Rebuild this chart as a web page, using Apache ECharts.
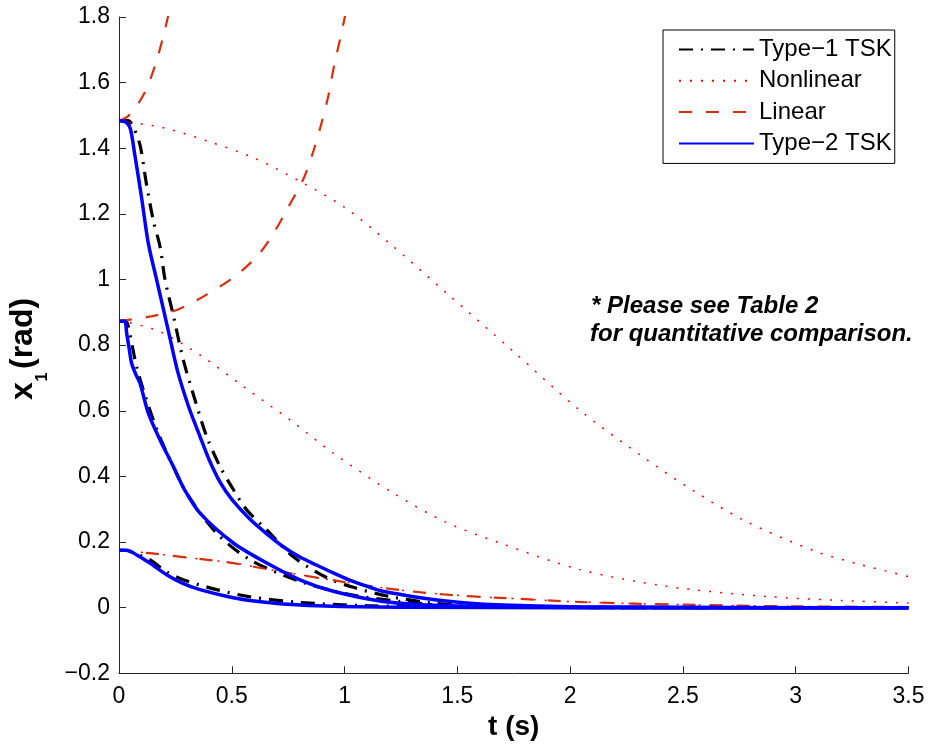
<!DOCTYPE html>
<html>
<head>
<meta charset="utf-8">
<script src="https://cdn.jsdelivr.net/npm/echarts@6/dist/echarts.min.js"></script>
<style>
html,body{margin:0;padding:0;background:#fff;}
#chart{width:929px;height:748px;}
</style>
</head>
<body>
<div id="chart"></div>
<script>
// ---- Data (t in s, x1 in rad) ----
// Type-1 TSK (three initial conditions)
const t1HiT = [0, 0.04, 0.06, 0.093, 0.122, 0.152, 0.182, 0.204, 0.241, 0.285, 0.337, 0.389, 0.448, 0.507, 0.566, 0.655, 0.773, 0.92, 1.039, 1.2, 1.39, 1.6, 2.0, 2.5, 3.0, 3.5];
const t1HiX = [1.484, 1.484, 1.47, 1.41, 1.29, 1.18, 1.10, 1.00, 0.89, 0.755, 0.633, 0.521, 0.430, 0.36, 0.298, 0.237, 0.155, 0.092, 0.062, 0.034, 0.014, 0.006, 0.002, 0.0005, 0, 0];
const t1MidT = [0, 0.03, 0.041, 0.078, 0.122, 0.174, 0.233, 0.300, 0.433, 0.581, 0.802, 1.024, 1.246, 1.467, 1.8, 2.5, 3.5];
const t1MidX = [0.873, 0.873, 0.857, 0.735, 0.633, 0.532, 0.441, 0.349, 0.227, 0.146, 0.080, 0.040, 0.019, 0.006, 0.002, 0, 0];
const t1LoT = [0, 0.03, 0.06, 0.137, 0.21, 0.285, 0.433, 0.581, 0.802, 1.098, 1.5, 2.5, 3.5];
const t1LoX = [0.175, 0.175, 0.168, 0.146, 0.11, 0.085, 0.055, 0.033, 0.016, 0.006, 0.002, 0, 0];

// Nonlinear model
const nlHiT = [0, 0.2, 0.4, 0.6, 0.8, 1.0, 1.2, 1.45, 1.75, 2.04, 2.34, 2.55, 2.78, 3.09, 3.29, 3.5];
const nlHiX = [1.484, 1.462, 1.42, 1.37, 1.30, 1.22, 1.11, 0.96, 0.78, 0.603, 0.451, 0.355, 0.263, 0.171, 0.131, 0.095];
const nlMidT = [0, 0.05, 0.182, 0.359, 0.551, 0.758, 0.950, 1.216, 1.45, 1.689, 2.043, 2.428, 2.871, 3.2, 3.5];
const nlMidX = [0.873, 0.868, 0.841, 0.770, 0.674, 0.572, 0.471, 0.349, 0.26, 0.197, 0.116, 0.065, 0.034, 0.022, 0.014];
const nlLoT = [0, 0.137, 0.3, 0.507, 0.65, 0.802, 1.0, 1.171, 1.35, 1.541, 1.689, 2.058, 2.502, 3.0, 3.5];
const nlLoX = [0.175, 0.166, 0.153, 0.136, 0.118, 0.100, 0.078, 0.060, 0.046, 0.036, 0.030, 0.017, 0.009, 0.004, 0.002];

// Linear model
const linHiT = [0, 0.041, 0.108, 0.158, 0.196, 0.22, 0.24];
const linHiX = [1.484, 1.498, 1.562, 1.648, 1.74, 1.81, 1.88];
const linMidT = [0, 0.137, 0.256, 0.373, 0.505, 0.61, 0.68, 0.75, 0.82, 0.863, 0.898, 0.928, 0.953, 0.987, 1.01];
const linMidX = [0.873, 0.887, 0.907, 0.948, 1.005, 1.069, 1.135, 1.22, 1.31, 1.394, 1.477, 1.56, 1.65, 1.754, 1.83];
const linLoT = [0, 0.137, 0.3, 0.507, 0.65, 0.802, 1.0, 1.171, 1.35, 1.541, 1.689, 2.058, 2.502, 3.0, 3.5];
const linLoX = [0.175, 0.166, 0.153, 0.136, 0.118, 0.100, 0.078, 0.060, 0.046, 0.035, 0.030, 0.017, 0.009, 0.004, 0.002];

// Type-2 TSK
const t2HiT = [0, 0.03, 0.05, 0.07, 0.10, 0.13, 0.17, 0.22, 0.26, 0.31, 0.36, 0.40, 0.45, 0.50, 0.58, 0.655, 0.73, 0.80, 0.875, 0.95, 1.02, 1.10, 1.17, 1.25, 1.4, 1.54, 1.7, 2.0, 2.5, 3.0, 3.5];
const t2HiX = [1.484, 1.48, 1.46, 1.38, 1.25, 1.11, 0.99, 0.84, 0.72, 0.61, 0.52, 0.45, 0.38, 0.33, 0.27, 0.225, 0.185, 0.155, 0.13, 0.106, 0.085, 0.065, 0.05, 0.040, 0.024, 0.014, 0.008, 0.003, 0.001, 0, 0];
const t2MidT = [0, 0.025, 0.034, 0.045, 0.056, 0.075, 0.093, 0.13, 0.182, 0.241, 0.29, 0.359, 0.507, 0.655, 0.802, 0.95, 1.171, 1.4, 1.7, 2.5, 3.5];
const t2MidX = [0.873, 0.873, 0.836, 0.79, 0.745, 0.71, 0.684, 0.593, 0.511, 0.43, 0.36, 0.288, 0.197, 0.136, 0.085, 0.05, 0.019, 0.007, 0.002, 0, 0];
const t2LoT = [0, 0.03, 0.049, 0.08, 0.137, 0.211, 0.28, 0.359, 0.507, 0.6, 0.729, 0.95, 1.3, 2.0, 3.5];
const t2LoX = [0.175, 0.175, 0.172, 0.16, 0.136, 0.10, 0.075, 0.055, 0.030, 0.02, 0.011, 0.004, 0.001, 0, 0];

// Axis ticks & labels
const xTicks = [0, 0.5, 1, 1.5, 2, 2.5, 3, 3.5];
const yTicks = [-0.2, 0, 0.2, 0.4, 0.6, 0.8, 1, 1.2, 1.4, 1.6, 1.8];
const seriesNames = ['Type\u22121 TSK', 'Nonlinear', 'Linear', 'Type\u22122 TSK'];
const noteLines = ['* Please see Table 2', 'for quantitative comparison.'];

function zip(t, x) { return t.map((v, i) => [v, x[i]]); }

const FONT = '"Liberation Sans", Arial, Helvetica, sans-serif';
const styles = {
  'Type\u22121 TSK': { color: '#000000', width: 3.2, type: [14, 8, 2, 8] },
  'Nonlinear': { color: '#ff0000', width: 1.5, type: [2, 9] },
  'Linear': { color: '#d7300a', width: 2.2, type: [13, 14] },
  'Type\u22122 TSK': { color: '#0000ff', width: 3.5, type: 'solid' }
};

function mk(name, t, x) {
  const s = styles[name];
  return {
    name: name, type: 'line', data: zip(t, x),
    showSymbol: false, symbol: 'circle', symbolSize: 0, smooth: 0.3,
    clip: true, animation: false,
    lineStyle: { color: s.color, width: s.width, type: s.type, cap: 'butt' },
    itemStyle: { color: s.color },
    emphasis: { disabled: true }
  };
}

const series = [
  mk(seriesNames[0], t1HiT, t1HiX), mk(seriesNames[0], t1MidT, t1MidX), mk(seriesNames[0], t1LoT, t1LoX),
  mk(seriesNames[1], nlHiT, nlHiX), mk(seriesNames[1], nlMidT, nlMidX), mk(seriesNames[1], nlLoT, nlLoX),
  mk(seriesNames[2], linHiT, linHiX), mk(seriesNames[2], linMidT, linMidX), mk(seriesNames[2], linLoT, linLoX),
  mk(seriesNames[3], t2HiT, t2HiX), mk(seriesNames[3], t2MidT, t2MidX), mk(seriesNames[3], t2LoT, t2LoX)
];

const chart = echarts.init(document.getElementById('chart'), null, { renderer: 'canvas' });
chart.setOption({
  animation: false,
  backgroundColor: '#ffffff',
  textStyle: { fontFamily: FONT },
  grid: { left: 119, right: 20.5, top: 17, bottom: 74.7, containLabel: false, outerBoundsMode: 'none' },
  xAxis: {
    type: 'value', min: xTicks[0], max: xTicks[xTicks.length - 1], interval: 0.5,
    name: 't (s)', nameLocation: 'middle', nameGap: 40,
    nameTextStyle: { fontFamily: FONT, fontWeight: 'bold', fontSize: 28, color: '#000' },
    axisLine: { show: true, onZero: false, lineStyle: { color: '#262626', width: 1 } },
    axisTick: { show: true, inside: true, length: 7, lineStyle: { color: '#262626' } },
    axisLabel: { margin: 12, fontSize: 23, color: '#000', fontFamily: FONT,
      formatter: v => String(v).replace('-', '\u2212') },
    splitLine: { show: false }
  },
  yAxis: {
    type: 'value', min: yTicks[0], max: yTicks[yTicks.length - 1], interval: 0.2,
    axisLine: { show: true, onZero: false, lineStyle: { color: '#262626', width: 1 } },
    axisTick: { show: true, inside: true, length: 7, lineStyle: { color: '#262626' } },
    axisLabel: { margin: 9, fontSize: 23, color: '#000', fontFamily: FONT,
      formatter: v => String(Math.round(v * 10) / 10).replace('-', '\u2212') },
    splitLine: { show: false }
  },
  legend: {
    data: seriesNames, orient: 'vertical', left: 663, top: 30,
    backgroundColor: '#ffffff', borderColor: '#000000', borderWidth: 1,
    padding: [7.5, 3, 8, 15], itemGap: 7.3, itemWidth: 75, itemHeight: 14,
    selectedMode: false,
    itemStyle: { opacity: 0, borderWidth: 0 },
    textStyle: { fontSize: 24, color: '#000', fontFamily: FONT, lineHeight: 24 }
  },
  graphic: [
    { type: 'text', x: 591, y: 306.6, silent: true,
      style: { text: noteLines[0], font: 'italic bold 24px ' + FONT, fill: '#000', textAlign: 'left', textVerticalAlign: 'middle' } },
    { type: 'text', x: 590, y: 334.6, silent: true,
      style: { text: noteLines[1], font: 'italic bold 24px ' + FONT, fill: '#000', textAlign: 'left', textVerticalAlign: 'middle' } },
    { type: 'text', x: 23.6, y: 400, rotation: Math.PI / 2, silent: true,
      style: { text: 'x', font: 'bold 32px ' + FONT, fill: '#000', textAlign: 'left', textVerticalAlign: 'middle' } },
    { type: 'text', x: 43, y: 381.5, rotation: Math.PI / 2, silent: true,
      style: { text: '1', font: 'bold 16px ' + FONT, fill: '#000', textAlign: 'left', textVerticalAlign: 'middle' } },
    { type: 'text', x: 23.6, y: 369, rotation: Math.PI / 2, silent: true,
      style: { text: '(rad)', font: 'bold 32px ' + FONT, fill: '#000', textAlign: 'left', textVerticalAlign: 'middle' } }
  ],
  series: series
});
</script>
</body>
</html>
